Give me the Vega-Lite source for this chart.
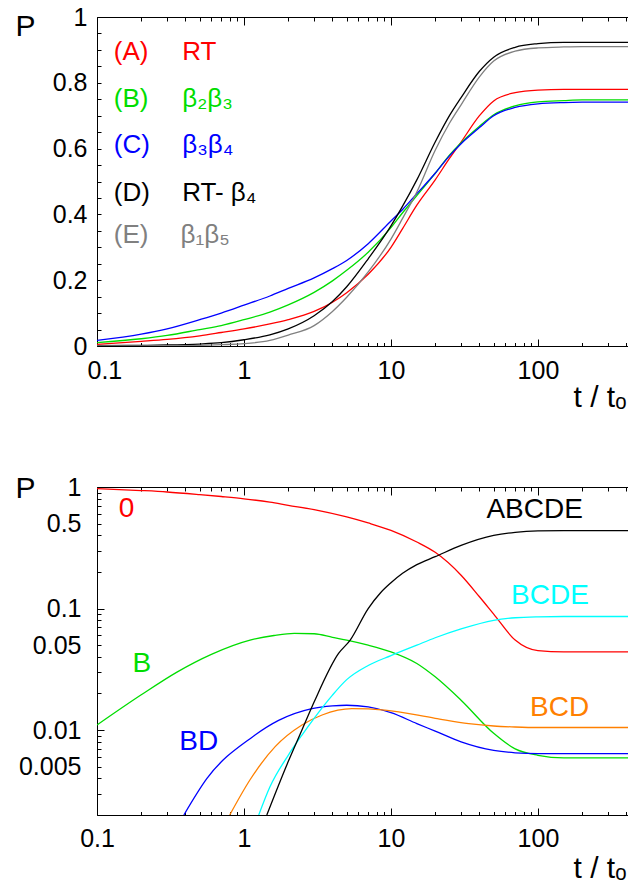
{
  "$schema": "https://vega.github.io/schema/vega-lite/v6.json",
  "background": "white",
  "padding": {"left": 14, "top": 5, "right": 0, "bottom": 0},
  "bounds": "flush",
  "spacing": 141,
  "resolve": {"scale": {"color": "independent"}},
  "config": {
    "view": {"stroke": null},
    "font": "Liberation Sans",
    "axis": {"labelFont": "Liberation Sans", "titleFont": "Liberation Sans", "grid": false, "domainColor": "black", "tickColor": "black", "labelColor": "black", "titleColor": "black", "domainWidth": 1, "tickWidth": 1, "titleFontWeight": "normal"}
  },
  "datasets": {
    "topLines": [
      {"x":0.1,"p":0.005,"s":"A"},{"x":0.2,"p":0.014,"s":"A"},{"x":0.3,"p":0.020,"s":"A"},{"x":0.5,"p":0.031,"s":"A"},{"x":0.7,"p":0.041,"s":"A"},{"x":1,"p":0.052,"s":"A"},{"x":1.5,"p":0.067,"s":"A"},{"x":2,"p":0.080,"s":"A"},{"x":3,"p":0.105,"s":"A"},{"x":4,"p":0.133,"s":"A"},{"x":5,"p":0.162,"s":"A"},{"x":7,"p":0.218,"s":"A"},{"x":10,"p":0.30,"s":"A"},{"x":12,"p":0.357,"s":"A"},{"x":15,"p":0.428,"s":"A"},{"x":20,"p":0.505,"s":"A"},{"x":25,"p":0.57,"s":"A"},{"x":30,"p":0.62,"s":"A"},{"x":40,"p":0.70,"s":"A"},{"x":50,"p":0.745,"s":"A"},{"x":70,"p":0.77,"s":"A"},{"x":100,"p":0.778,"s":"A"},{"x":150,"p":0.78,"s":"A"},{"x":200,"p":0.78,"s":"A"},{"x":410,"p":0.78,"s":"A"},
      {"x":0.1,"p":0.010,"s":"B"},{"x":0.2,"p":0.022,"s":"B"},{"x":0.3,"p":0.032,"s":"B"},{"x":0.5,"p":0.050,"s":"B"},{"x":0.7,"p":0.062,"s":"B"},{"x":1,"p":0.080,"s":"B"},{"x":1.5,"p":0.103,"s":"B"},{"x":2,"p":0.125,"s":"B"},{"x":3,"p":0.163,"s":"B"},{"x":4,"p":0.198,"s":"B"},{"x":5,"p":0.230,"s":"B"},{"x":7,"p":0.285,"s":"B"},{"x":10,"p":0.36,"s":"B"},{"x":12,"p":0.405,"s":"B"},{"x":15,"p":0.457,"s":"B"},{"x":20,"p":0.525,"s":"B"},{"x":25,"p":0.58,"s":"B"},{"x":30,"p":0.618,"s":"B"},{"x":40,"p":0.668,"s":"B"},{"x":50,"p":0.703,"s":"B"},{"x":70,"p":0.73,"s":"B"},{"x":100,"p":0.742,"s":"B"},{"x":150,"p":0.746,"s":"B"},{"x":200,"p":0.748,"s":"B"},{"x":410,"p":0.748,"s":"B"},
      {"x":0.1,"p":0.017,"s":"C"},{"x":0.2,"p":0.036,"s":"C"},{"x":0.3,"p":0.052,"s":"C"},{"x":0.5,"p":0.080,"s":"C"},{"x":0.7,"p":0.100,"s":"C"},{"x":1,"p":0.124,"s":"C"},{"x":1.5,"p":0.152,"s":"C"},{"x":2,"p":0.175,"s":"C"},{"x":3,"p":0.207,"s":"C"},{"x":4,"p":0.235,"s":"C"},{"x":5,"p":0.26,"s":"C"},{"x":7,"p":0.311,"s":"C"},{"x":10,"p":0.38,"s":"C"},{"x":12,"p":0.415,"s":"C"},{"x":15,"p":0.463,"s":"C"},{"x":20,"p":0.525,"s":"C"},{"x":25,"p":0.578,"s":"C"},{"x":30,"p":0.615,"s":"C"},{"x":40,"p":0.664,"s":"C"},{"x":50,"p":0.70,"s":"C"},{"x":70,"p":0.725,"s":"C"},{"x":100,"p":0.736,"s":"C"},{"x":150,"p":0.740,"s":"C"},{"x":200,"p":0.741,"s":"C"},{"x":410,"p":0.741,"s":"C"},
      {"x":0.1,"p":0.001,"s":"D"},{"x":0.2,"p":0.002,"s":"D"},{"x":0.3,"p":0.003,"s":"D"},{"x":0.5,"p":0.006,"s":"D"},{"x":0.7,"p":0.010,"s":"D"},{"x":1,"p":0.019,"s":"D"},{"x":1.5,"p":0.034,"s":"D"},{"x":2,"p":0.052,"s":"D"},{"x":3,"p":0.092,"s":"D"},{"x":4,"p":0.135,"s":"D"},{"x":5,"p":0.18,"s":"D"},{"x":7,"p":0.265,"s":"D"},{"x":10,"p":0.365,"s":"D"},{"x":12,"p":0.425,"s":"D"},{"x":15,"p":0.505,"s":"D"},{"x":20,"p":0.62,"s":"D"},{"x":25,"p":0.70,"s":"D"},{"x":30,"p":0.755,"s":"D"},{"x":40,"p":0.835,"s":"D"},{"x":50,"p":0.878,"s":"D"},{"x":70,"p":0.908,"s":"D"},{"x":100,"p":0.919,"s":"D"},{"x":150,"p":0.923,"s":"D"},{"x":200,"p":0.923,"s":"D"},{"x":410,"p":0.923,"s":"D"},
      {"x":0.1,"p":0.0,"s":"E"},{"x":0.2,"p":0.0005,"s":"E"},{"x":0.3,"p":0.001,"s":"E"},{"x":0.5,"p":0.002,"s":"E"},{"x":0.7,"p":0.004,"s":"E"},{"x":1,"p":0.007,"s":"E"},{"x":1.5,"p":0.017,"s":"E"},{"x":2,"p":0.033,"s":"E"},{"x":3,"p":0.062,"s":"E"},{"x":4,"p":0.105,"s":"E"},{"x":5,"p":0.148,"s":"E"},{"x":7,"p":0.225,"s":"E"},{"x":10,"p":0.325,"s":"E"},{"x":12,"p":0.388,"s":"E"},{"x":15,"p":0.468,"s":"E"},{"x":20,"p":0.595,"s":"E"},{"x":25,"p":0.677,"s":"E"},{"x":30,"p":0.733,"s":"E"},{"x":40,"p":0.818,"s":"E"},{"x":50,"p":0.866,"s":"E"},{"x":70,"p":0.896,"s":"E"},{"x":100,"p":0.906,"s":"E"},{"x":150,"p":0.909,"s":"E"},{"x":200,"p":0.91,"s":"E"},{"x":410,"p":0.91,"s":"E"}
    ],
    "topText": [
      {"x":0.13,"p":0.894,"label":"(A)","s":"A"},{"x":0.38,"p":0.894,"label":"RT","s":"A"},
      {"x":0.13,"p":0.751,"label":"(B)","s":"B"},{"x":0.38,"p":0.751,"label":"β₂β₃","s":"B"},
      {"x":0.13,"p":0.611,"label":"(C)","s":"C"},{"x":0.38,"p":0.611,"label":"β₃β₄","s":"C"},
      {"x":0.13,"p":0.464,"label":"(D)","s":"D"},{"x":0.38,"p":0.464,"label":"RT- β₄","s":"D"},
      {"x":0.13,"p":0.337,"label":"(E)","s":"E"},{"x":0.37,"p":0.337,"label":"β₁β₅","s":"E"}
    ],
    "botLines": [
      {"x":0.1,"p":0.97,"s":"0"},{"x":0.2,"p":0.935,"s":"0"},{"x":0.3,"p":0.91,"s":"0"},{"x":0.5,"p":0.866,"s":"0"},{"x":0.7,"p":0.835,"s":"0"},{"x":1,"p":0.80,"s":"0"},{"x":1.5,"p":0.75,"s":"0"},{"x":2,"p":0.707,"s":"0"},{"x":3,"p":0.652,"s":"0"},{"x":5,"p":0.567,"s":"0"},{"x":7,"p":0.506,"s":"0"},{"x":10,"p":0.44,"s":"0"},{"x":15,"p":0.353,"s":"0"},{"x":20,"p":0.29,"s":"0"},{"x":30,"p":0.188,"s":"0"},{"x":40,"p":0.125,"s":"0"},{"x":50,"p":0.09,"s":"0"},{"x":70,"p":0.055,"s":"0"},{"x":100,"p":0.045,"s":"0"},{"x":150,"p":0.044,"s":"0"},{"x":200,"p":0.044,"s":"0"},{"x":410,"p":0.044,"s":"0"},
      {"x":0.1,"p":0.011,"s":"B"},{"x":0.2,"p":0.0195,"s":"B"},{"x":0.35,"p":0.030,"s":"B"},{"x":0.6,"p":0.042,"s":"B"},{"x":1.1,"p":0.055,"s":"B"},{"x":1.6,"p":0.060,"s":"B"},{"x":2.2,"p":0.0625,"s":"B"},{"x":3,"p":0.062,"s":"B"},{"x":4,"p":0.058,"s":"B"},{"x":5,"p":0.055,"s":"B"},{"x":7,"p":0.050,"s":"B"},{"x":10,"p":0.044,"s":"B"},{"x":15,"p":0.0353,"s":"B"},{"x":20,"p":0.0274,"s":"B"},{"x":30,"p":0.0176,"s":"B"},{"x":50,"p":0.0094,"s":"B"},{"x":70,"p":0.0070,"s":"B"},{"x":100,"p":0.0062,"s":"B"},{"x":150,"p":0.0059,"s":"B"},{"x":410,"p":0.0059,"s":"B"},
      {"x":0.39,"p":0.002,"s":"BD"},{"x":0.56,"p":0.0040,"s":"BD"},{"x":1.13,"p":0.0087,"s":"BD"},{"x":1.72,"p":0.012,"s":"BD"},{"x":2.9,"p":0.015,"s":"BD"},{"x":4,"p":0.0158,"s":"BD"},{"x":5,"p":0.016,"s":"BD"},{"x":7,"p":0.0155,"s":"BD"},{"x":10,"p":0.0139,"s":"BD"},{"x":15,"p":0.0113,"s":"BD"},{"x":20,"p":0.0098,"s":"BD"},{"x":30,"p":0.0080,"s":"BD"},{"x":50,"p":0.0068,"s":"BD"},{"x":70,"p":0.0065,"s":"BD"},{"x":100,"p":0.0064,"s":"BD"},{"x":150,"p":0.0064,"s":"BD"},{"x":410,"p":0.0064,"s":"BD"},
      {"x":0.8,"p":0.002,"s":"BCD"},{"x":1.1,"p":0.0039,"s":"BCD"},{"x":1.63,"p":0.0073,"s":"BCD"},{"x":2.48,"p":0.011,"s":"BCD"},{"x":3.4,"p":0.0133,"s":"BCD"},{"x":5.43,"p":0.015,"s":"BCD"},{"x":9.1,"p":0.0146,"s":"BCD"},{"x":20,"p":0.0125,"s":"BCD"},{"x":33.8,"p":0.0113,"s":"BCD"},{"x":50,"p":0.0108,"s":"BCD"},{"x":70,"p":0.0106,"s":"BCD"},{"x":100,"p":0.0105,"s":"BCD"},{"x":410,"p":0.0105,"s":"BCD"},
      {"x":1.26,"p":0.002,"s":"BCDE"},{"x":1.5,"p":0.0034,"s":"BCDE"},{"x":2,"p":0.0062,"s":"BCDE"},{"x":2.48,"p":0.0091,"s":"BCDE"},{"x":3,"p":0.0125,"s":"BCDE"},{"x":4,"p":0.0194,"s":"BCDE"},{"x":5,"p":0.026,"s":"BCDE"},{"x":7,"p":0.034,"s":"BCDE"},{"x":10,"p":0.041,"s":"BCDE"},{"x":15,"p":0.050,"s":"BCDE"},{"x":20,"p":0.0575,"s":"BCDE"},{"x":30,"p":0.068,"s":"BCDE"},{"x":50,"p":0.080,"s":"BCDE"},{"x":70,"p":0.084,"s":"BCDE"},{"x":100,"p":0.0855,"s":"BCDE"},{"x":150,"p":0.086,"s":"BCDE"},{"x":410,"p":0.086,"s":"BCDE"},
      {"x":1.43,"p":0.002,"s":"ABCDE"},{"x":2,"p":0.0055,"s":"ABCDE"},{"x":2.48,"p":0.010,"s":"ABCDE"},{"x":3,"p":0.017,"s":"ABCDE"},{"x":4.4,"p":0.0427,"s":"ABCDE"},{"x":5.28,"p":0.055,"s":"ABCDE"},{"x":7,"p":0.10,"s":"ABCDE"},{"x":8.5,"p":0.135,"s":"ABCDE"},{"x":10,"p":0.163,"s":"ABCDE"},{"x":12,"p":0.195,"s":"ABCDE"},{"x":15,"p":0.23,"s":"ABCDE"},{"x":20,"p":0.267,"s":"ABCDE"},{"x":30,"p":0.331,"s":"ABCDE"},{"x":50,"p":0.40,"s":"ABCDE"},{"x":70,"p":0.424,"s":"ABCDE"},{"x":100,"p":0.435,"s":"ABCDE"},{"x":150,"p":0.437,"s":"ABCDE"},{"x":410,"p":0.437,"s":"ABCDE"}
    ],
    "botText": [
      {"x":0.159,"p":0.656,"label":"0","s":"0"},
      {"x":0.2015,"p":0.0348,"label":"B","s":"B"},
      {"x":0.492,"p":0.008,"label":"BD","s":"BD"},
      {"x":95,"p":0.643,"label":"ABCDE","s":"ABCDE"},
      {"x":120.8,"p":0.127,"label":"BCDE","s":"BCDE"},
      {"x":140.6,"p":0.0151,"label":"BCD","s":"BCD"}
    ]
  },
  "vconcat": [
    {
      "width": 531,
      "height": 329,
      "resolve": {"axis": {"x": "independent", "y": "independent"}},
      "layer": [
        {
          "data": {"name": "topLines"},
          "mark": {"type": "line", "interpolate": "monotone", "strokeWidth": 1.3, "clip": true},
          "encoding": {
            "x": {"field": "x", "type": "quantitative", "scale": {"type": "log", "domain": [0.1, 410], "nice": false},
              "axis": {"orient": "bottom", "values": [0.1,0.2,0.3,0.4,0.5,0.6,0.7,0.8,0.9,1,2,3,4,5,6,7,8,9,10,20,30,40,50,60,70,80,90,100,200,300,400],
                "labels": false, "title": null, "domain": true,
                "tickSize": {"condition": {"test": "indexof([0.1,1,10,100], datum.value) >= 0", "value": -7}, "value": -3.5}}},
            "y": {"field": "p", "type": "quantitative", "scale": {"domain": [0, 1], "nice": false, "zero": false},
              "axis": {"orient": "left", "values": [0,0.05,0.1,0.15,0.2,0.25,0.3,0.35,0.4,0.45,0.5,0.55,0.6,0.65,0.7,0.75,0.8,0.85,0.9,0.95,1],
                "labels": false, "title": null, "domain": true, "tickSize": -4}},
            "color": {"field": "s", "type": "nominal", "scale": {"domain": ["A","B","C","D","E"], "range": ["#ff0000","#00dd00","#0000ff","#000000","#808080"]}, "legend": null}
          }
        },
        {
          "data": {"name": "topText"},
          "mark": {"type": "text", "align": "left", "baseline": "middle", "fontSize": 26},
          "encoding": {
            "x": {"field": "x", "type": "quantitative", "scale": {"type": "log", "domain": [0.1, 410], "nice": false},
              "axis": {"orient": "top", "values": [0.1,0.2,0.3,0.4,0.5,0.6,0.7,0.8,0.9,1,2,3,4,5,6,7,8,9,10,20,30,40,50,60,70,80,90,100,200,300,400],
                "labels": false, "title": null, "domain": true,
                "tickSize": {"condition": {"test": "indexof([0.1,1,10,100], datum.value) >= 0", "value": -8}, "value": -4}}},
            "y": {"field": "p", "type": "quantitative", "scale": {"domain": [0, 1], "nice": false, "zero": false}, "axis": null},
            "color": {"field": "s", "type": "nominal", "scale": {"domain": ["A","B","C","D","E"], "range": ["#ff0000","#00dd00","#0000ff","#000000","#808080"]}, "legend": null},
            "text": {"field": "label"}
          }
        },
        {
          "data": {"name": "topLines"},
          "mark": {"type": "line", "strokeOpacity": 0},
          "encoding": {
            "x": {"field": "x", "type": "quantitative", "scale": {"type": "log", "domain": [0.1, 410], "nice": false},
              "axis": {"orient": "bottom", "values": [0.1,1,10,100], "format": "~g", "ticks": false, "tickSize": 0, "domain": false,
                "labelOverlap": false, "labelFlush": true, "labelFlushOffset": 10, "labelFontSize": 25, "labelPadding": 12,
                "title": "t / tₒ", "titleFontSize": 30, "titleX": 476, "titleY": 51, "titleAlign": "left", "titleBaseline": "middle", "titleAnchor": "start"}},
            "y": {"field": "p", "type": "quantitative", "scale": {"domain": [0, 1], "nice": false, "zero": false},
              "axis": {"orient": "left", "values": [0,0.2,0.4,0.6,0.8,1], "format": "~g", "ticks": false, "tickSize": 0, "domain": false,
                "labelOverlap": false, "labelFlush": false, "labelFontSize": 25, "labelPadding": 10,
                "title": "P", "titleAngle": 0, "titleFontSize": 30, "titleX": -72, "titleY": 9, "titleAlign": "center", "titleBaseline": "middle"}},
            "detail": {"field": "s", "type": "nominal"}
          }
        }
      ]
    },
    {
      "width": 531,
      "height": 328,
      "resolve": {"axis": {"x": "independent", "y": "independent"}},
      "layer": [
        {
          "data": {"name": "botLines"},
          "mark": {"type": "line", "interpolate": "monotone", "strokeWidth": 1.3, "clip": true},
          "encoding": {
            "x": {"field": "x", "type": "quantitative", "scale": {"type": "log", "domain": [0.1, 410], "nice": false},
              "axis": {"orient": "bottom", "values": [0.1,0.2,0.3,0.4,0.5,0.6,0.7,0.8,0.9,1,2,3,4,5,6,7,8,9,10,20,30,40,50,60,70,80,90,100,200,300,400],
                "labels": false, "title": null, "domain": true,
                "tickSize": {"condition": {"test": "indexof([0.1,1,10,100], datum.value) >= 0", "value": -7}, "value": -3.5}}},
            "y": {"field": "p", "type": "quantitative", "scale": {"type": "log", "domain": [0.002, 1], "nice": false},
              "axis": {"orient": "left", "values": [0.002,0.003,0.004,0.005,0.006,0.007,0.008,0.009,0.01,0.02,0.03,0.04,0.05,0.06,0.07,0.08,0.09,0.1,0.2,0.3,0.4,0.5,0.6,0.7,0.8,0.9,1],
                "labels": false, "title": null, "domain": true,
                "tickSize": {"condition": {"test": "indexof([0.01,0.1,1], datum.value) >= 0", "value": -7}, "value": -4}}},
            "color": {"field": "s", "type": "nominal", "scale": {"domain": ["0","B","BD","BCD","BCDE","ABCDE"], "range": ["#ff0000","#00dd00","#0000ff","#ff8000","#00ffff","#000000"]}, "legend": null}
          }
        },
        {
          "data": {"name": "botText"},
          "mark": {"type": "text", "align": "center", "baseline": "middle", "fontSize": 28},
          "encoding": {
            "x": {"field": "x", "type": "quantitative", "scale": {"type": "log", "domain": [0.1, 410], "nice": false},
              "axis": {"orient": "top", "values": [0.1,0.2,0.3,0.4,0.5,0.6,0.7,0.8,0.9,1,2,3,4,5,6,7,8,9,10,20,30,40,50,60,70,80,90,100,200,300,400],
                "labels": false, "title": null, "domain": true,
                "tickSize": {"condition": {"test": "indexof([0.1,1,10,100], datum.value) >= 0", "value": -8}, "value": -4}}},
            "y": {"field": "p", "type": "quantitative", "scale": {"type": "log", "domain": [0.002, 1], "nice": false},
              "axis": {"orient": "right", "ticks": false, "labels": false, "title": null, "domain": true}},
            "color": {"field": "s", "type": "nominal", "scale": {"domain": ["0","B","BD","BCD","BCDE","ABCDE"], "range": ["#ff0000","#00dd00","#0000ff","#ff8000","#00ffff","#000000"]}, "legend": null},
            "text": {"field": "label"}
          }
        },
        {
          "data": {"name": "botLines"},
          "mark": {"type": "line", "strokeOpacity": 0},
          "encoding": {
            "x": {"field": "x", "type": "quantitative", "scale": {"type": "log", "domain": [0.1, 410], "nice": false},
              "axis": {"orient": "bottom", "values": [0.1,1,10,100], "format": "~g", "ticks": false, "tickSize": 0, "domain": false,
                "labelOverlap": false, "labelFlush": false, "labelFontSize": 25, "labelPadding": 11,
                "title": "t / tₒ", "titleFontSize": 30, "titleX": 476, "titleY": 53, "titleAlign": "left", "titleBaseline": "middle", "titleAnchor": "start"}},
            "y": {"field": "p", "type": "quantitative", "scale": {"type": "log", "domain": [0.002, 1], "nice": false},
              "axis": {"orient": "left", "values": [0.005,0.01,0.05,0.1,0.5,1], "format": "~g", "ticks": false, "tickSize": 0, "domain": false,
                "labelOverlap": false, "labelFlush": false, "labelFontSize": 25, "labelPadding": 16,
                "title": "P", "titleAngle": 0, "titleFontSize": 30, "titleX": -72, "titleY": 1, "titleAlign": "center", "titleBaseline": "middle"}},
            "detail": {"field": "s", "type": "nominal"}
          }
        }
      ]
    }
  ]
}
